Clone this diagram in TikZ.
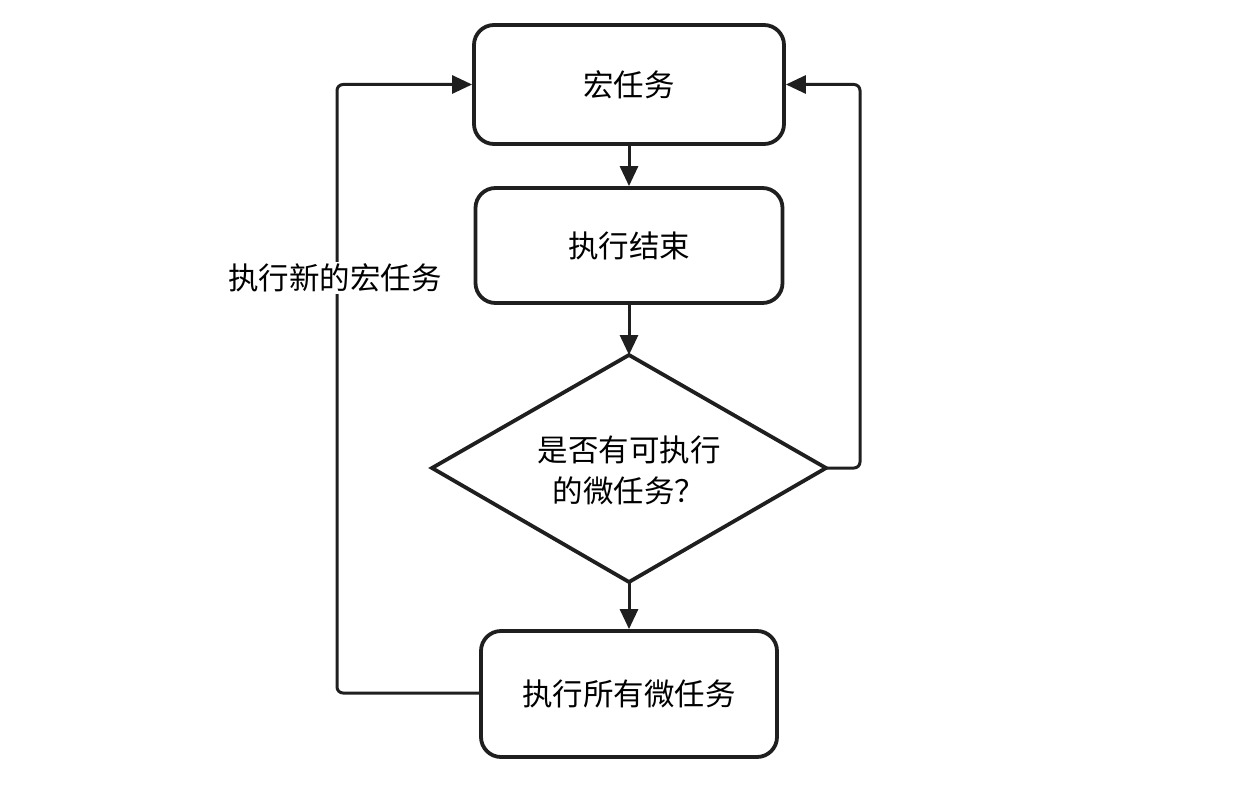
\documentclass[tikz,border=0pt]{standalone}
\usepackage{fontspec}
\setmainfont{Noto Sans CJK SC}
\usetikzlibrary{arrows.meta,shapes.geometric}
\begin{document}
\begin{tikzpicture}[x=1pt,y=-1pt,
  box/.style={draw=black!88, line width=3.8pt, rounded corners=20pt, fill=white, font=\fontsize{30.5}{41}\selectfont, inner sep=0pt},
  conn/.style={draw=black!88, line width=3pt, rounded corners=6pt, -{Triangle[length=20pt,width=18pt]}},
  txt/.style={font=\fontsize{30.5}{41}\selectfont}
]
\useasboundingbox (0,0) rectangle (1241,805);
\node[box, minimum width=310pt, minimum height=119pt] (macro) at (629,84.5) {宏任务};
\node[box, minimum width=307pt, minimum height=115pt] (done) at (629,245.5) {执行结束};
\draw[draw=black!88, line width=3.8pt, fill=white, line join=miter] (432,468) -- (629,355) -- (826,468) -- (629,582) -- cycle;
\node[txt, align=center] (dec) at (629,470) {是否有可执行\\的微任务？};
\coordinate (decL) at (432,468);
\coordinate (decR) at (826,468);
\coordinate (decT) at (629,355);
\coordinate (decB) at (629,582);
\node[box, minimum width=296pt, minimum height=126pt] (micro) at (629,694) {执行所有微任务};
\coordinate (rc) at (860,468);
\coordinate (lc) at (337,693);
\draw[conn] (macro.south) -- (done.north);
\draw[conn] (done.south) -- (decT);
\draw[conn] (decB) -- (micro.north);
\draw[conn] (decR) -- (rc) -- (rc |- macro.east) -- (macro.east);
\draw[conn] (micro.west |- lc) -- (lc) -- (lc |- macro.west) -- (macro.west);
\node[txt, fill=white, inner sep=2pt] (lbl) at (335,278) {执行新的宏任务};
\end{tikzpicture}
\end{document}
